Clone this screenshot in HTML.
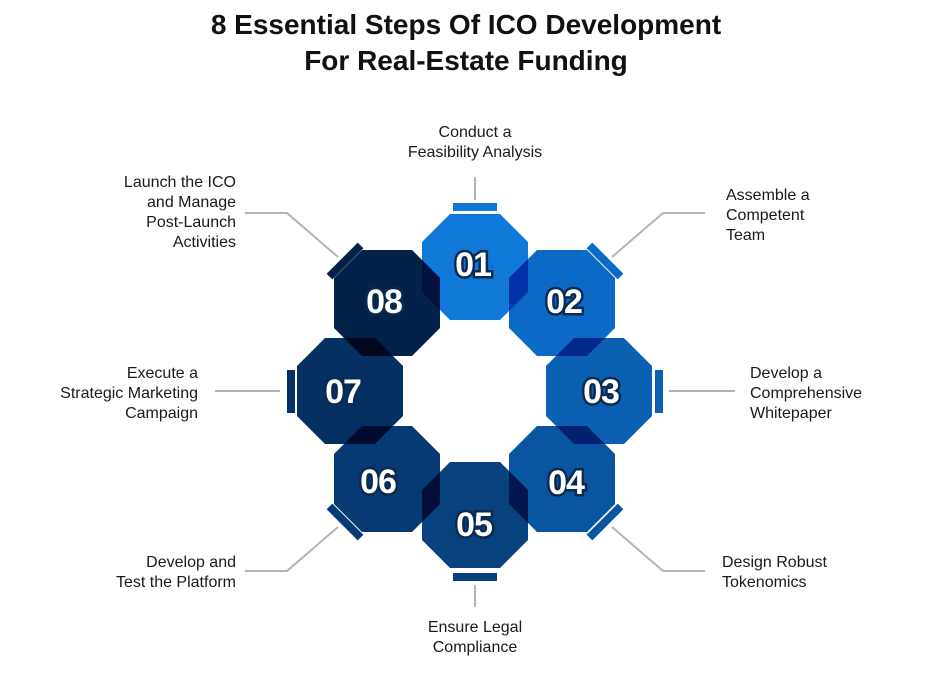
<!DOCTYPE html>
<html><head><meta charset="utf-8"><style>
html,body{margin:0;padding:0;background:#fff;}
svg{display:block;font-family:"Liberation Sans",sans-serif;}
.t{font-size:28px;font-weight:bold;fill:#111;text-anchor:middle;}
.l{font-size:16px;fill:#1a1a1a;}
.n{font-size:34px;font-weight:bold;fill:#fff;stroke:#0a2a50;stroke-width:5px;paint-order:stroke;text-anchor:middle;letter-spacing:-1px;}
.c{stroke:#b3b3b3;stroke-width:2;fill:none;}
.o use{mix-blend-mode:multiply;}
</style></head><body>
<svg width="931" height="695" viewBox="0 0 931 695">
<text class="t" x="466" y="34">8 Essential Steps Of ICO Development</text>
<text class="t" x="466" y="70">For Real-Estate Funding</text>

<g class="c">
<polyline points="475,177 475,200"/>
<polyline points="612,257 663,213 705,213"/>
<polyline points="669,391 735,391"/>
<polyline points="612,527 663,571 705,571"/>
<polyline points="475,585 475,607"/>
<polyline points="338,527 287,571 245,571"/>
<polyline points="215,391 280,391"/>
<polyline points="338,257 287,213 245,213"/>
</g>

<defs><polygon id="o" points="-25,-53 25,-53 53,-25 53,25 25,53 -25,53 -53,25 -53,-25"/></defs>
<g class="o" style="isolation:isolate">
<use href="#o" x="475" y="267" fill="#1078d8"/>
<use href="#o" x="562" y="303" fill="#0c69c6"/>
<use href="#o" x="599" y="391" fill="#0b60b2"/>
<use href="#o" x="562" y="479" fill="#0a559f"/>
<use href="#o" x="387" y="479" fill="#063a74"/>
<use href="#o" x="475" y="515" fill="#07427f"/>
<use href="#o" x="350" y="391" fill="#053064"/>
<use href="#o" x="387" y="303" fill="#03224a"/>
</g>

<rect x="453" y="203" width="44" height="8" fill="#1078d8"/>
<rect x="453" y="573" width="44" height="8" fill="#07427f"/>
<rect x="655" y="370" width="8" height="43" fill="#0b60b2"/>
<rect x="287" y="370" width="8" height="43" fill="#053064"/>
<rect x="-22" y="-4" width="44" height="8" fill="#0c69c6" transform="translate(605,261) rotate(45)"/>
<rect x="-22" y="-4" width="44" height="8" fill="#03224a" transform="translate(345,261) rotate(-45)"/>
<rect x="-22" y="-4" width="44" height="8" fill="#0a559f" transform="translate(605,522) rotate(-45)"/>
<rect x="-22" y="-4" width="44" height="8" fill="#063a74" transform="translate(345,522) rotate(45)"/>

<text class="n" x="473" y="276">01</text>
<text class="n" x="564" y="313">02</text>
<text class="n" x="601" y="403">03</text>
<text class="n" x="566" y="494">04</text>
<text class="n" x="474" y="536">05</text>
<text class="n" x="378" y="493">06</text>
<text class="n" x="343" y="403">07</text>
<text class="n" x="384" y="313">08</text>

<g class="l">
<text x="475" y="137" text-anchor="middle">Conduct a</text>
<text x="475" y="157" text-anchor="middle">Feasibility Analysis</text>
<text x="726" y="200">Assemble a</text>
<text x="726" y="220">Competent</text>
<text x="726" y="240">Team</text>
<text x="750" y="378">Develop a</text>
<text x="750" y="398">Comprehensive</text>
<text x="750" y="418">Whitepaper</text>
<text x="722" y="567">Design Robust</text>
<text x="722" y="587">Tokenomics</text>
<text x="475" y="632" text-anchor="middle">Ensure Legal</text>
<text x="475" y="652" text-anchor="middle">Compliance</text>
<text x="236" y="567" text-anchor="end">Develop and</text>
<text x="236" y="587" text-anchor="end">Test the Platform</text>
<text x="198" y="378" text-anchor="end">Execute a</text>
<text x="198" y="398" text-anchor="end">Strategic Marketing</text>
<text x="198" y="418" text-anchor="end">Campaign</text>
<text x="236" y="187" text-anchor="end">Launch the ICO</text>
<text x="236" y="207" text-anchor="end">and Manage</text>
<text x="236" y="227" text-anchor="end">Post-Launch</text>
<text x="236" y="247" text-anchor="end">Activities</text>
</g>
</svg>
</body></html>
